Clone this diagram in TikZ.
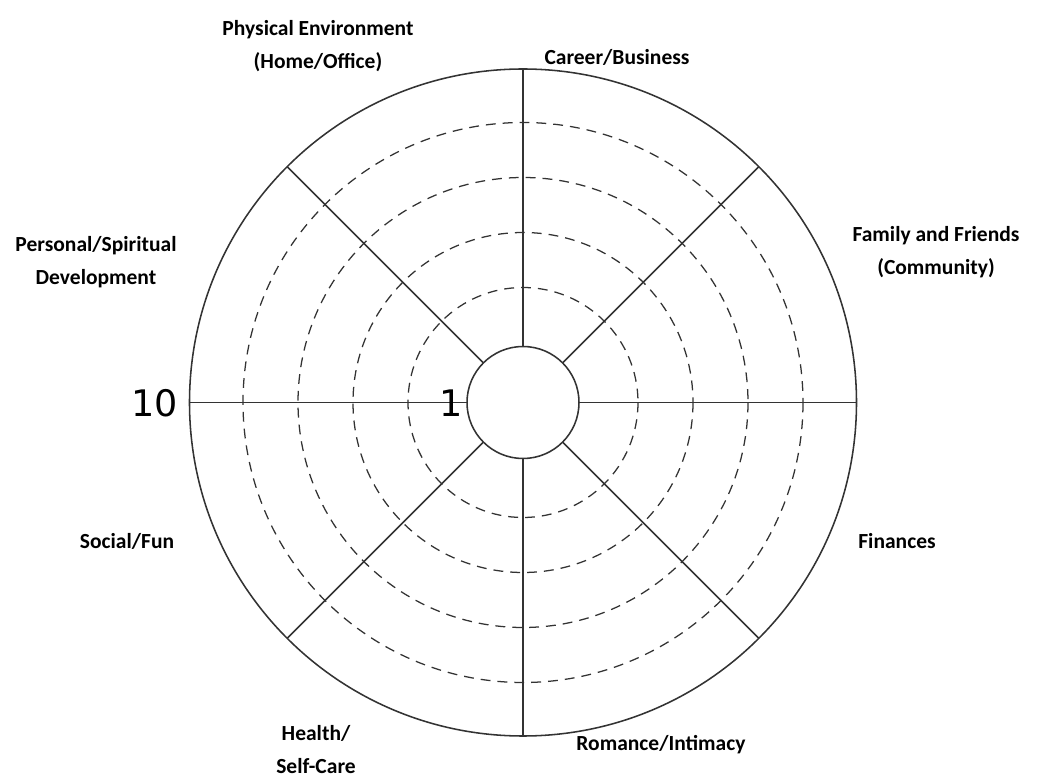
\documentclass[tikz,border=0pt]{standalone}
\usepackage{fontspec}
\usetikzlibrary{calc}
\setmainfont{Carlito}
\newfontfamily\numfont{DejaVu Sans}
\def\px{0.025cm}
\def\rin{56}
\def\rout{333.5}

\begin{document}
\begin{tikzpicture}[x=\px, y=-\px,
    wheel/.style={draw=black!80, line width=1.1pt},
    ring/.style={draw=black!80, line width=0.9pt, dash pattern=on 7 pt off 5pt},
    area/.style={font=\bfseries\fontsize{15.3}{23.5}\selectfont, align=center, anchor=center},
    scalenum/.style={font=\numfont\fontsize{26}{26}\selectfont, anchor=center}]
      \useasboundingbox (0,0) rectangle (1042,780);
      \coordinate (c) at (523,402.5);
      % scale rings
      \foreach \r in {115,170,225,280}
        \draw[ring] (c) circle (\r);
      % spokes
      \foreach \a in {0,45,...,315}
        \draw[wheel] ($(c)+(\a:\rin)$) -- ($(c)+(\a:\rout)$);
      \draw[wheel] (c) circle (\rout);
      \draw[wheel, fill=white] (c) circle (\rin);
      \node[scalenum] (ten) at (155,403) {10};
      \node[scalenum] (one) at (451,403) {1};
      \node[area] (physical) at (318,46) {Physical Environment\\(Home/Office)};
      \node[area] (career) at (617,57) {Career/Business};
      \node[area] (family) at (936,252) {Family and Friends\\(Community)};
      \node[area] (finances) at (897,541) {Finances};
      \node[area] (romance) at (661,745) {Romance/Intimacy};
      \node[area] (health) at (316,750) {Health/\\Self-Care};
      \node[area] (social) at (127,541) {Social/Fun};
      \node[area] (personal) at (96,262) {Personal/Spiritual\\Development};
\end{tikzpicture}
\end{document}
